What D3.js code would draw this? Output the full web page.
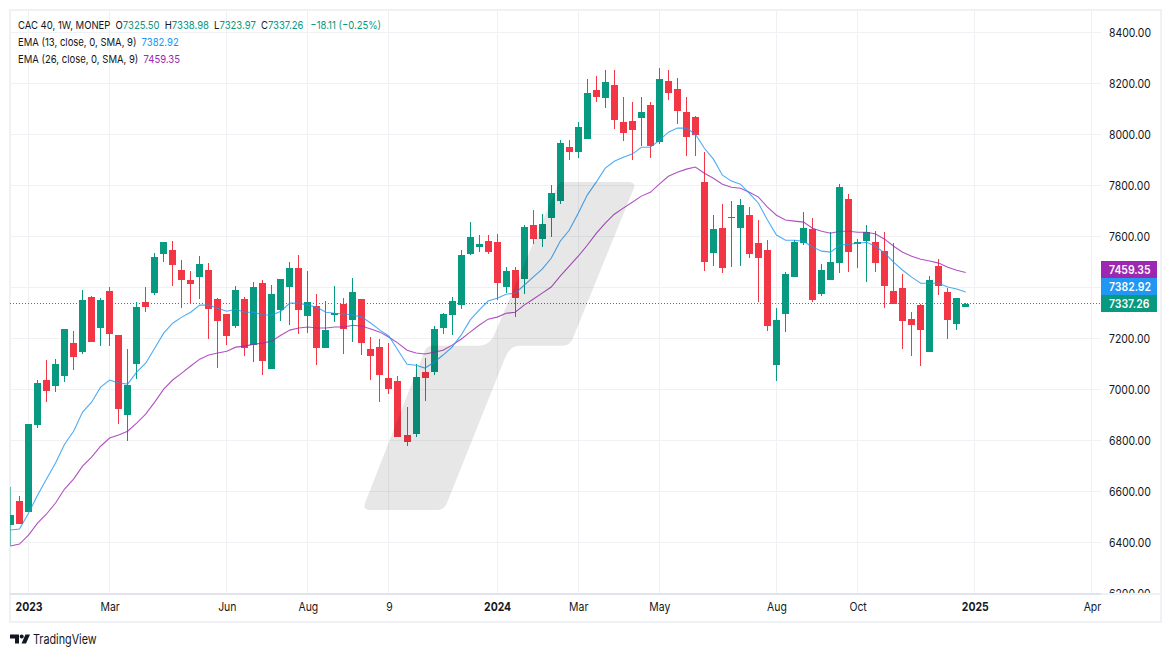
<!DOCTYPE html>
<html>
<head>
<meta charset="utf-8">
<script src="https://cdn.jsdelivr.net/npm/d3@7"></script>
<style>
  html, body { margin: 0; background: #fff; }
  text { font-family: Inter, "Noto Sans", sans-serif; fill: #131722; }
</style>
</head>
<body>
<svg width="1171" height="657"></svg>
<script>
var opens = [6467,6562,6519,6860,7037,7013,7052,7182,7146,7362,7241,7386,7213,6899,7099,7343,7378,7531,7547,7468,7429,7441,7468,7354,7296,7248,7354,7174,7417,7080,7311,7402,7476,7288,7327,7162,7292,7335,7272,7354,7158,7166,7044,7033,6821,6825,7068,7068,7241,7292,7331,7531,7559,7582,7578,7402,7468,7433,7645,7590,7672,7739,7951,7931,7982,8175,8143,8194,8049,8053,8065,8116,7971,8210,8179,8088,8069,7814,7535,7633,7672,7633,7684,7574,7547,7095,7296,7441,7574,7629,7374,7429,7496,7747,7570,7582,7578,7543,7386,7398,7276,7331,7146,7484,7382,7256,7325.50];
var highs = [6617,6581,6864,7037,7115,7119,7237,7229,7390,7366,7358,7402,7213,7158,7343,7402,7535,7578,7582,7507,7464,7523,7496,7358,7296,7405,7362,7421,7429,7409,7433,7500,7527,7464,7374,7347,7405,7358,7437,7354,7205,7197,7182,7052,6931,7099,7123,7248,7299,7362,7547,7657,7606,7606,7610,7480,7480,7645,7704,7688,7802,7979,7979,8049,8218,8230,8253,8253,8147,8128,8147,8128,8261,8253,8222,8147,8073,7931,7684,7727,7739,7747,7716,7665,7586,7319,7460,7586,7696,7672,7492,7617,7806,7767,7590,7645,7621,7617,7574,7452,7303,7335,7445,7511,7398,7358,7338.98];
var lows = [6385,6471,6518,6848,6950,6989,7029,7076,7139,7186,7170,7170,6864,6797,7040,7303,7370,7500,7405,7319,7335,7354,7197,7084,7174,7241,7131,7107,7056,7080,7268,7252,7217,7221,7095,7162,7264,7139,7186,7135,7037,6950,6981,6813,6777,6813,6954,7056,7217,7213,7315,7527,7539,7531,7350,7378,7284,7374,7570,7559,7598,7727,7900,7908,7982,8128,8104,8022,7975,7900,7955,7908,7963,8135,8041,7916,7916,7464,7484,7456,7480,7484,7515,7343,7229,7033,7225,7441,7566,7343,7366,7429,7456,7460,7476,7421,7460,7319,7335,7158,7131,7092,7146,7370,7197,7233,7323.97];
var closes = [6507,6471,6864,7025,6993,7099,7237,7127,7350,7186,7350,7217,6923,7017,7323,7323,7519,7578,7488,7429,7413,7492,7315,7268,7209,7390,7162,7402,7111,7374,7433,7476,7311,7343,7162,7233,7299,7237,7382,7182,7131,7056,7001,6813,6793,7048,7044,7237,7296,7347,7527,7598,7570,7539,7417,7464,7358,7637,7590,7649,7770,7967,7931,8030,8163,8147,8206,8057,8006,8018,8088,7955,8218,8163,8092,7990,7998,7500,7629,7476,7676,7723,7531,7515,7248,7272,7453,7578,7633,7350,7468,7500,7794,7539,7578,7617,7496,7405,7335,7268,7252,7233,7429,7405,7272,7358,7337.26];
var ema13 = [6448,6452,6514,6585,6648,6711,6785,6836,6911,6950,7009,7037,7025,7021,7068,7103,7162,7221,7260,7284,7303,7331,7331,7319,7307,7315,7303,7303,7292,7292,7307,7339,7339,7331,7323,7303,7299,7296,7292,7284,7260,7233,7209,7154,7099,7095,7084,7107,7135,7166,7213,7272,7311,7347,7358,7374,7378,7409,7441,7472,7515,7582,7625,7692,7763,7814,7869,7896,7912,7924,7951,7951,7978,8010,8026,8026,8002,7947,7904,7841,7818,7806,7770,7731,7665,7606,7586,7586,7582,7559,7543,7539,7566,7570,7574,7578,7562,7535,7500,7468,7441,7417,7417,7417,7402,7394,7382.92];
var ema26 = [6385,6393,6428,6475,6511,6554,6609,6648,6699,6734,6777,6809,6821,6836,6868,6903,6950,7001,7037,7064,7092,7119,7135,7143,7150,7166,7170,7178,7182,7190,7213,7233,7241,7245,7241,7241,7245,7245,7252,7248,7237,7225,7205,7182,7154,7143,7139,7146,7154,7174,7197,7225,7252,7276,7284,7299,7303,7331,7354,7378,7402,7445,7484,7523,7566,7613,7653,7688,7712,7735,7759,7774,7806,7837,7853,7865,7873,7849,7829,7806,7794,7790,7774,7755,7716,7684,7665,7661,7657,7633,7621,7613,7621,7621,7617,7617,7610,7590,7562,7539,7523,7511,7504,7496,7480,7468,7459.35];
var priceTicks = [6200,6400,6600,6800,7000,7200,7400,7600,7800,8000,8200,8400];
var timeTicks = [2,11,24,33,42,54,63,72,85,94,107,120];
var timeLabels = ["2023","Mar","Jun","Aug","9","2024","Mar","May","Aug","Oct","2025","Apr"];
var yearLabels = ["2023","2024","2025"];
var legendQuote = [["O","7325.50"],["H","7338.98"],["L","7323.97"],["C","7337.26"]];

var up = "#089981", down = "#f23645", blue = "#2196f3", purple = "#9c27b0";
var gridColor = "#f0f1f5";
var squeeze = "scale(0.87,1)"; // the screenshot text is a bit narrower than plain Inter

var svg = d3.select("svg");
var x = d3.scaleLinear().domain([0, 120]).range([10.48, 1091.9]);
var y = d3.scaleLinear().domain([7200, 8400]).range([338.5, 32.85]);
var px = function (i) { return Math.floor(x(i)); };

svg.append("rect").attr("x", 10).attr("y", 10).attr("width", 1151).attr("height", 612)
  .attr("fill", "#fff").attr("stroke", gridColor).attr("stroke-width", 2);

var defs = svg.append("defs");
defs.append("clipPath").attr("id", "pane").append("rect")
  .attr("x", 10).attr("y", 11).attr("width", 1091).attr("height", 582);
defs.append("clipPath").attr("id", "axisclip").append("rect")
  .attr("x", 1101).attr("y", 11).attr("width", 59).attr("height", 582);

var pane = svg.append("g").attr("clip-path", "url(#pane)");

// grid
pane.append("g").selectAll("line").data(priceTicks).enter().append("line")
  .attr("x1", 10).attr("x2", 1101)
  .attr("y1", function (d) { return Math.floor(y(d)) + 0.5; })
  .attr("y2", function (d) { return Math.floor(y(d)) + 0.5; })
  .attr("stroke", gridColor);
pane.append("g").selectAll("line").data(timeTicks).enter().append("line")
  .attr("x1", function (d) { return px(d) + 0.5; })
  .attr("x2", function (d) { return px(d) + 0.5; })
  .attr("y1", 11).attr("y2", 593)
  .attr("stroke", gridColor);

// candles
var bars = d3.range(opens.length);
var colorOf = function (i) { return closes[i] >= opens[i] ? up : down; };
pane.append("g").selectAll("rect").data(bars).enter().append("rect")
  .attr("x", function (i) { return px(i); })
  .attr("width", 1)
  .attr("y", function (i) { return Math.round(y(highs[i])); })
  .attr("height", function (i) { return Math.max(1, Math.round(y(lows[i])) - Math.round(y(highs[i]))); })
  .attr("fill", colorOf)
  .attr("opacity", function (i) { return i == 0 ? 0.6 : 1; });
pane.append("g").selectAll("rect").data(bars).enter().append("rect")
  .attr("x", function (i) { return px(i) - 3; })
  .attr("width", 7)
  .attr("y", function (i) { return Math.round(y(Math.max(opens[i], closes[i]))); })
  .attr("height", function (i) {
    return Math.max(1, Math.round(y(Math.min(opens[i], closes[i]))) - Math.round(y(Math.max(opens[i], closes[i]))));
  })
  .attr("fill", colorOf);

// ema lines
var line = d3.line().x(function (d, i) { return x(i); }).y(function (d) { return y(d); });
pane.append("path").datum(ema26).attr("d", line).attr("fill", "none")
  .attr("stroke", purple).attr("stroke-width", 1.1).attr("stroke-opacity", 0.8);
pane.append("path").datum(ema13).attr("d", line).attr("fill", "none")
  .attr("stroke", blue).attr("stroke-width", 1.1).attr("stroke-opacity", 0.8);

// last price line
pane.append("line").attr("x1", 10).attr("x2", 1101)
  .attr("y1", Math.floor(y(closes[106])) + 0.5).attr("y2", Math.floor(y(closes[106])) + 0.5)
  .attr("stroke", up).attr("stroke-dasharray", "1 2");

// watermark sits over the candles
svg.append("path")
  .attr("d", "M365,503 Q362,510 371,510 L438,510 Q444,510 447,503 L505,358 Q510,345.7 519,345.7 L563,345.7 Q570,345.7 573,338 L634,188 Q636,182 628,182 L563,182 Q559,182 557,187 L495,333 Q490,345.7 478,345.7 L433,345.7 Q427,345.7 425,350 Z")
  .attr("fill", "#000").attr("fill-opacity", 0.095);

// axis separators
svg.append("rect").attr("x", 10).attr("y", 593).attr("width", 1091).attr("height", 2).attr("fill", "#e0e3eb");
svg.append("rect").attr("x", 1101).attr("y", 593).attr("width", 60).attr("height", 2).attr("fill", gridColor);

// price axis
var yAxis = svg.append("g").attr("clip-path", "url(#axisclip)").append("g")
  .attr("transform", "translate(1109,0)")
  .call(d3.axisRight(y).tickValues(priceTicks).tickSize(0).tickPadding(0).tickFormat(d3.format(".2f")));
yAxis.select(".domain").remove();
yAxis.selectAll("text").style("font-size", "12px").attr("transform", squeeze);

// time axis
var xAxis = svg.append("g").attr("transform", "translate(0,595)")
  .call(d3.axisBottom(x).tickValues(timeTicks).tickSize(0).tickPadding(7)
    .tickFormat(function (d, i) { return timeLabels[i]; }));
xAxis.select(".domain").remove();
xAxis.selectAll("text")
  .attr("transform", squeeze)
  .style("font-size", "12px")
  .style("font-weight", function (d, i) { return yearLabels.indexOf(timeLabels[i]) >= 0 ? 700 : 400; });

// last value tags
var tags = [[ema26[106], purple, 261], [ema13[106], blue, 278], [closes[106], up, 295]];
var tag = svg.append("g").selectAll("g").data(tags).enter().append("g");
tag.append("rect").attr("x", 1101).attr("width", 56).attr("height", 17)
  .attr("y", function (d) { return d[2]; })
  .attr("fill", function (d) { return d[1]; });
tag.append("text").attr("dy", "0.35em")
  .attr("transform", function (d) { return "translate(1109," + (d[2] + 8.5) + ") " + squeeze; })
  .style("fill", "#fff").style("font-size", "12px").style("font-weight", 600)
  .text(function (d) { return d[0].toFixed(2); });

// legend
var legend = svg.append("g").style("font-size", "11px")
  .attr("transform", "translate(18,0) scale(0.865,1)");
var first = legend.append("text").attr("y", 29);
first.append("tspan").text("CAC 40, 1W, MONEP");
legendQuote.forEach(function (q, i) {
  first.append("tspan").attr("dx", i == 0 ? 6 : 6).text(q[0]);
  first.append("tspan").style("fill", up).text(q[1]);
});
first.append("tspan").attr("dx", 8).style("fill", up).text("\u221218.11 (\u22120.25%)");

var second = legend.append("text").attr("y", 46);
second.append("tspan").text("EMA (13, close, 0, SMA, 9)");
second.append("tspan").attr("dx", 6).style("fill", blue).text(ema13[106].toFixed(2));
var third = legend.append("text").attr("y", 63);
third.append("tspan").text("EMA (26, close, 0, SMA, 9)");
third.append("tspan").attr("dx", 6).style("fill", purple).text(ema26[106].toFixed(2));

// tradingview logo
var logo = svg.append("g").attr("fill", "#131722");
logo.append("path").attr("d", "M10,634.5 H19 V643.5 H15 V638.5 H10 Z");
logo.append("circle").attr("cx", 21.7).attr("cy", 636.5).attr("r", 2);
logo.append("path").attr("d", "M25.5,634.5 H30 L26,643.5 H21.5 Z");
svg.append("text").attr("transform", "translate(33,644) scale(0.83,1)").style("font-size", "13px").text("TradingView");
</script>
</body>
</html>
